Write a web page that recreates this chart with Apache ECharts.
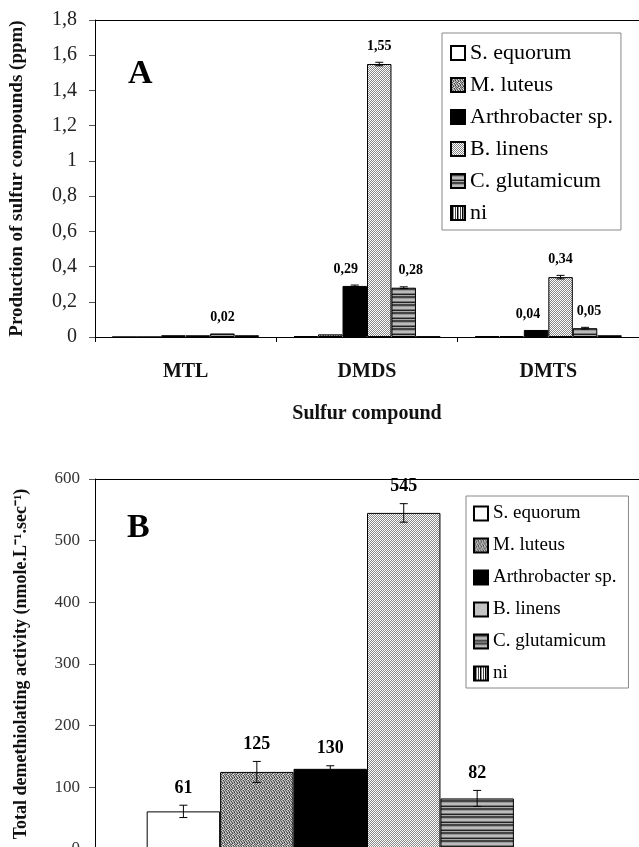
<!DOCTYPE html>
<html>
<head>
<meta charset="utf-8">
<script src="https://cdn.jsdelivr.net/npm/echarts@6/dist/echarts.min.js"></script>
<style>
  html, body { margin: 0; padding: 0; background: #fff; }
  #main { width: 639px; height: 847px; }
</style>
</head>
<body>
<div id="main"></div>
<script>
// ---- data ----
const strains = ['S. equorum', 'M. luteus', 'Arthrobacter sp.', 'B. linens', 'C. glutamicum', 'ni']

// panel A : production of sulfur compounds (ppm)
const compounds = ['MTL', 'DMDS', 'DMTS']
const equorumA = [0, 0.005, 0.005]
const luteusA = [0, 0.015, 0.005]
const arthroA = [0.01, 0.29, 0.04]
const linensA = [0.01, 1.55, 0.34]
const glutamA = [0.02, 0.28, 0.05]
const niA = [0.01, 0.003, 0.01]
const equorumErrA = [0, 0, 0]
const luteusErrA = [0, 0, 0]
const arthroErrA = [0, 0.005, 0]
const linensErrA = [0, 0.01, 0.01]
const glutamErrA = [0, 0.005, 0.005]
const niErrA = [0, 0, 0]
const ticksA = [0, 0.2, 0.4, 0.6, 0.8, 1, 1.2, 1.4, 1.6, 1.8]

// panel B : total demethiolating activity
const activityB = [61, 125, 130, 545, 82, 0]
const activityErrB = [10, 17, 5, 15, 13, 0]
const ticksB = [0, 100, 200, 300, 400, 500, 600]

const valuesA = [equorumA, luteusA, arthroA, linensA, glutamA, niA]
const errorsA = [equorumErrA, luteusErrA, arthroErrA, linensErrA, glutamErrA, niErrA]

// ---- fills ----
const serif = 'Liberation Serif'
const gapRatio = 0.19

function pattern(w, h, colors) {
  const c = document.createElement('canvas')
  c.width = w
  c.height = h
  const ctx = c.getContext('2d')
  for (let y = 0; y < h; y++) {
    for (let x = 0; x < w; x++) {
      ctx.fillStyle = colors[y][x]
      ctx.fillRect(x, y, 1, 1)
    }
  }
  return { image: c, repeat: 'repeat' }
}

const fills = [
  '#ffffff',
  // M. luteus: coarse dark stipple
  pattern(5, 5, [
    ['#666', '#bbb', '#999', '#444', '#ccc'],
    ['#aaa', '#555', '#ddd', '#888', '#777'],
    ['#ddd', '#888', '#666', '#bbb', '#333'],
    ['#777', '#ccc', '#444', '#999', '#aaa'],
    ['#999', '#444', '#bbb', '#eee', '#666']
  ]),
  '#000000',
  // B. linens: fine light stipple
  pattern(2, 2, [
    ['#fff', '#888'],
    ['#888', '#fff']
  ]),
  // C. glutamicum: horizontal stripes
  pattern(1, 8, [['#444'], ['#444'], ['#999'], ['#bbb'], ['#bbb'], ['#777'], ['#222'], ['#aaa']]),
  // ni: vertical stripes
  pattern(5, 1, [['#fff', '#000', '#888', '#fff', '#444']])
]

// label nudges (px) so the small labels clear the tall B. linens bar
const nudgeA = { '1-2': -9, '1-4': 7, '2-2': -8, '2-4': 4 }

function errorItem(fmt, labelFont, lift, nudges) {
  return function (params, api) {
    const cat = api.value(0)
    const val = api.value(1)
    const err = api.value(2)
    const idx = api.value(3)
    const shown = api.value(4)
    const band = api.size([1, 0])[0]
    const barW = band * (1 - gapRatio) / strains.length
    const cx = api.coord([cat, 0])[0] + (idx - (strains.length - 1) / 2) * barW
    const hi = api.coord([cat, val + err])[1]
    const lo = api.coord([cat, val - err])[1]
    const children = []
    if (err > 0) {
      const line = { stroke: '#000', lineWidth: 1 }
      children.push({ type: 'line', shape: { x1: cx, y1: hi, x2: cx, y2: lo }, style: line })
      children.push({ type: 'line', shape: { x1: cx - 4, y1: hi, x2: cx + 4, y2: hi }, style: line })
      children.push({ type: 'line', shape: { x1: cx - 4, y1: lo, x2: cx + 4, y2: lo }, style: line })
    }
    if (shown) {
      children.push({
        type: 'text',
        style: {
          text: fmt(val),
          x: cx + ((nudges && nudges[cat + '-' + idx]) || 0),
          y: hi - lift,
          align: 'center',
          verticalAlign: 'bottom',
          font: labelFont,
          fill: '#000'
        }
      })
    }
    return { type: 'group', children }
  }
}

const errDataA = []
valuesA.forEach((vals, s) => {
  vals.forEach((v, c) => {
    errDataA.push([c, v, errorsA[s][c], s, v >= 0.02 ? 1 : 0])
  })
})
const errDataB = activityB.map((v, s) => [0, v, activityErrB[s], s, v > 0 ? 1 : 0])

const series = []
strains.forEach((name, s) => {
  series.push({
    name: name,
    type: 'bar',
    xAxisIndex: 0,
    yAxisIndex: 0,
    data: valuesA[s],
    barGap: '0%',
    barCategoryGap: gapRatio * 100 + '%',
    itemStyle: { color: fills[s], borderColor: '#000', borderWidth: 1 },
    emphasis: { disabled: true }
  })
})
strains.forEach((name, s) => {
  series.push({
    name: name,
    type: 'bar',
    xAxisIndex: 2,
    yAxisIndex: 1,
    data: [activityB[s]],
    barGap: '0%',
    barCategoryGap: gapRatio * 100 + '%',
    itemStyle: { color: fills[s], borderColor: '#000', borderWidth: 1 },
    emphasis: { disabled: true }
  })
})
series.push({
  type: 'custom',
  xAxisIndex: 0,
  yAxisIndex: 0,
  data: errDataA,
  z: 5,
  silent: true,
  renderItem: errorItem(v => v.toFixed(2).replace('.', ','), 'bold 14px ' + serif, 9, nudgeA)
})
series.push({
  type: 'custom',
  xAxisIndex: 2,
  yAxisIndex: 1,
  data: errDataB,
  z: 5,
  silent: true,
  renderItem: errorItem(v => String(v), 'bold 18px ' + serif, 8, null)
})

const blackLine = { show: true, lineStyle: { color: '#000', width: 1 } }

const chart = echarts.init(document.getElementById('main'))
const option = {
  backgroundColor: '#fff',
  animation: false,
  textStyle: { fontFamily: serif },
  grid: [
    { left: 95, top: 20, right: 0, height: 317, outerBoundsMode: 'none' },
    { left: 95, top: 479, right: 0, height: 370, outerBoundsMode: 'none' }
  ],
  graphic: [
    { type: 'text', left: 128, top: 57, style: { text: 'A', font: 'bold 34px ' + serif, fill: '#000' } },
    { type: 'text', left: 127, top: 511, style: { text: 'B', font: 'bold 34px ' + serif, fill: '#000' } }
  ],
  legend: [
    {
      orient: 'vertical',
      left: 442,
      top: 33,
      padding: [9, 8, 6, 8],
      itemWidth: 14,
      itemHeight: 14,
      itemGap: 10,
      icon: 'rect',
      borderColor: '#888',
      borderWidth: 1,
      selectedMode: false,
      data: strains,
      textStyle: { fontFamily: serif, fontSize: 22, color: '#000' }
    },
    {
      orient: 'vertical',
      left: 466,
      top: 496,
      padding: [8, 12, 5, 7],
      itemWidth: 14,
      itemHeight: 14,
      itemGap: 13,
      icon: 'rect',
      borderColor: '#888',
      borderWidth: 1,
      selectedMode: false,
      data: strains,
      textStyle: { fontFamily: serif, fontSize: 19, color: '#000' }
    }
  ],
  xAxis: [
    {
      type: 'category',
      gridIndex: 0,
      data: compounds,
      axisLine: blackLine,
      axisTick: { show: true, length: 5, lineStyle: { color: '#000' } },
      axisLabel: { margin: 25, fontFamily: serif, fontWeight: 'bold', fontSize: 20, color: '#111' },
      name: 'Sulfur compound',
      nameLocation: 'middle',
      nameGap: 67,
      nameTextStyle: { fontFamily: serif, fontWeight: 'bold', fontSize: 20, color: '#111' }
    },
    {
      type: 'category',
      gridIndex: 0,
      position: 'top',
      data: compounds,
      axisLine: blackLine,
      axisTick: { show: false },
      axisLabel: { show: false }
    },
    {
      type: 'category',
      gridIndex: 1,
      data: [''],
      axisLine: blackLine,
      axisTick: { show: false },
      axisLabel: { show: false }
    },
    {
      type: 'category',
      gridIndex: 1,
      position: 'top',
      data: [''],
      axisLine: blackLine,
      axisTick: { show: false },
      axisLabel: { show: false }
    }
  ],
  yAxis: [
    {
      type: 'value',
      gridIndex: 0,
      min: ticksA[0],
      max: ticksA[ticksA.length - 1],
      interval: ticksA[1] - ticksA[0],
      axisLine: blackLine,
      axisTick: { show: true, length: 6, lineStyle: { color: '#555' } },
      splitLine: { show: false },
      axisLabel: {
        margin: 18,
        fontFamily: serif,
        fontSize: 20,
        color: '#222',
        formatter: v => String(Math.round(v * 10) / 10).replace('.', ',')
      },
      name: 'Production of sulfur compounds (ppm)',
      nameLocation: 'middle',
      nameRotate: 90,
      nameGap: 68,
      nameTextStyle: { fontFamily: serif, fontWeight: 'bold', fontSize: 19, color: '#111' }
    },
    {
      type: 'value',
      gridIndex: 1,
      min: ticksB[0],
      max: ticksB[ticksB.length - 1],
      interval: ticksB[1] - ticksB[0],
      axisLine: blackLine,
      axisTick: { show: true, length: 6, lineStyle: { color: '#555' } },
      splitLine: { show: false },
      axisLabel: { margin: 15, fontFamily: serif, fontSize: 17, color: '#333' },
      name: 'Total demethiolating activity (nmole.L\u207B\u00B9.sec\u207B\u00B9)',
      nameLocation: 'middle',
      nameRotate: 90,
      nameGap: 65,
      nameTextStyle: { fontFamily: serif, fontWeight: 'bold', fontSize: 18, color: '#111' }
    }
  ],
  series: series
}
chart.setOption(option)
</script>
</body>
</html>
